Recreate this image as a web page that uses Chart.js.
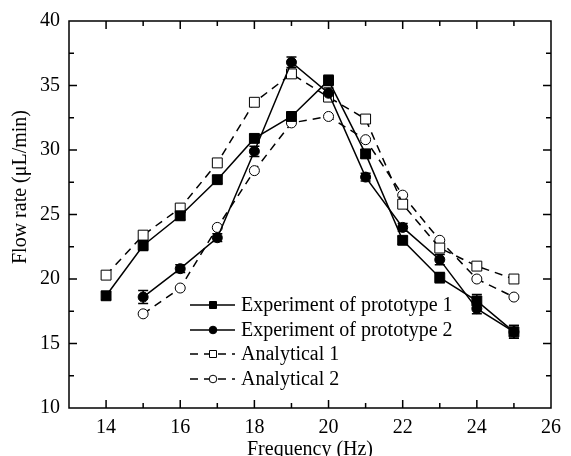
<!DOCTYPE html>
<html>
<head>
<meta charset="utf-8">
<script src="https://cdn.jsdelivr.net/npm/chart.js@4"></script>
<style>
html, body { margin: 0; padding: 0; background: #fff; }
</style>
</head>
<body>
<canvas id="flowChart" width="571" height="456"></canvas>
<script>
// frequencies (Hz)
const freqAll = [14, 15, 16, 17, 18, 19, 20, 21, 22, 23, 24, 25];
const freqFrom15 = [15, 16, 17, 18, 19, 20, 21, 22, 23, 24, 25];

// flow rate (uL/min)
const exp1 = [18.7, 22.6, 24.9, 27.7, 30.9, 32.6, 35.4, 29.7, 23.0, 20.1, 18.3, 15.9];
const exp1Err = [0.3, 0.4, 0.3, 0.3, 0.3, 0.3, 0.4, 0.3, 0.3, 0.4, 0.5, 0.5];
const exp2 = [18.6, 20.8, 23.2, 29.9, 36.8, 34.4, 27.9, 24.0, 21.5, 17.7, 15.9];
const exp2Err = [0.5, 0.3, 0.3, 0.4, 0.4, 0.4, 0.3, 0.3, 0.4, 0.4, 0.5];
const analytical1 = [20.3, 23.4, 25.5, 29.0, 33.7, 35.9, 34.1, 32.4, 25.8, 22.4, 21.0, 20.0];
const analytical2 = [17.3, 19.3, 24.0, 28.4, 32.1, 32.6, 30.8, 26.5, 23.0, 20.0, 18.6];

const xTicks = [14, 16, 18, 20, 22, 24, 26];
const yTicks = [10, 15, 20, 25, 30, 35, 40];
const seriesNames = ['Experiment of prototype 1', 'Experiment of prototype 2', 'Analytical 1', 'Analytical 2'];

const FONT = '"Liberation Serif", "Times New Roman", serif';

function pts(xs, ys) {
    return xs.map((x, i) => ({ x: x, y: ys[i] }));
}

// error bars for the experimental series
const errorBars = {
    id: 'errorBars',
    beforeDatasetsDraw(chart) {
        const ctx = chart.ctx;
        const xs = chart.scales.x, ys = chart.scales.y;
        ctx.save();
        ctx.strokeStyle = '#000';
        ctx.lineWidth = 1.5;
        [[freqAll, exp1, exp1Err], [freqFrom15, exp2, exp2Err]].forEach(([f, v, e]) => {
            f.forEach((fx, i) => {
                const px = xs.getPixelForValue(fx);
                const top = ys.getPixelForValue(v[i] + e[i]);
                const bot = ys.getPixelForValue(v[i] - e[i]);
                ctx.beginPath();
                ctx.moveTo(px, top); ctx.lineTo(px, bot);
                ctx.moveTo(px - 5, top); ctx.lineTo(px + 5, top);
                ctx.moveTo(px - 5, bot); ctx.lineTo(px + 5, bot);
                ctx.stroke();
            });
        });
        ctx.restore();
    }
};

// box frame, inward ticks, y title and legend
const frameAndLegend = {
    id: 'frameAndLegend',
    afterDraw(chart) {
        const ctx = chart.ctx;
        const a = chart.chartArea;
        const xs = chart.scales.x, ys = chart.scales.y;
        ctx.save();
        ctx.strokeStyle = '#000';
        ctx.lineWidth = 1.5;
        ctx.strokeRect(a.left, a.top, a.right - a.left, a.bottom - a.top);

        ctx.beginPath();
        for (let v = 14; v <= 25; v++) {
            const px = xs.getPixelForValue(v);
            const len = v % 2 === 0 ? 8 : 5;
            ctx.moveTo(px, a.bottom); ctx.lineTo(px, a.bottom - len);
            ctx.moveTo(px, a.top); ctx.lineTo(px, a.top + len);
        }
        for (let v = 12.5; v < 40; v += 2.5) {
            const py = ys.getPixelForValue(v);
            const len = v % 5 === 0 ? 8 : 5;
            ctx.moveTo(a.left, py); ctx.lineTo(a.left + len, py);
            ctx.moveTo(a.right, py); ctx.lineTo(a.right - len, py);
        }
        ctx.stroke();

        // y axis title
        ctx.fillStyle = '#000';
        ctx.font = '20px ' + FONT;
        ctx.textAlign = 'center';
        ctx.textBaseline = 'middle';
        ctx.translate(21, 187);
        ctx.rotate(-Math.PI / 2);
        ctx.fillText('Flow rate (\u03bcL/min)', 0, 0);
        ctx.setTransform(1, 0, 0, 1, 0, 0);

        // legend
        const lx0 = 190, lx1 = 235, mx = 213, tx = 241;
        const rowY = [305, 330, 354, 379];
        chart.data.datasets.forEach((ds, i) => {
            const y = rowY[i];
            ctx.strokeStyle = '#000';
            ctx.lineWidth = 1.5;
            ctx.setLineDash(ds.borderDash || []);
            ctx.beginPath();
            ctx.moveTo(lx0, y); ctx.lineTo(lx1, y);
            ctx.stroke();
            ctx.setLineDash([]);
            ctx.fillStyle = ds.pointBackgroundColor;
            ctx.lineWidth = 1;
            ctx.beginPath();
            if (ds.pointStyle === 'rect') {
                ctx.rect(mx - 3.5, y - 3.5, 7, 7);
            } else {
                ctx.arc(mx, y, 3.8, 0, Math.PI * 2);
            }
            ctx.fill();
            ctx.stroke();
            ctx.fillStyle = '#000';
            ctx.font = '20px ' + FONT;
            ctx.textAlign = 'left';
            ctx.textBaseline = 'middle';
            ctx.fillText(ds.label, tx, y + 1);
        });
        ctx.restore();
    }
};

const ctx = document.getElementById('flowChart').getContext('2d');

const flowChart = new Chart(ctx, {
    type: 'line',
    data: {
        datasets: [{
            label: seriesNames[0],
            data: pts(freqAll, exp1),
            borderColor: '#000',
            borderWidth: 1.5,
            pointStyle: 'rect',
            pointRadius: 7,
            pointBackgroundColor: '#000',
            pointBorderColor: '#000',
            pointBorderWidth: 1
        }, {
            label: seriesNames[1],
            data: pts(freqFrom15, exp2),
            borderColor: '#000',
            borderWidth: 1.5,
            pointStyle: 'circle',
            pointRadius: 5,
            pointBackgroundColor: '#000',
            pointBorderColor: '#000',
            pointBorderWidth: 1
        }, {
            label: seriesNames[2],
            data: pts(freqAll, analytical1),
            borderColor: '#000',
            borderWidth: 1.5,
            borderDash: [8, 6],
            pointStyle: 'rect',
            pointRadius: 7,
            pointBackgroundColor: '#fff',
            pointBorderColor: '#000',
            pointBorderWidth: 1
        }, {
            label: seriesNames[3],
            data: pts(freqFrom15, analytical2),
            borderColor: '#000',
            borderWidth: 1.5,
            borderDash: [8, 6],
            pointStyle: 'circle',
            pointRadius: 5,
            pointBackgroundColor: '#fff',
            pointBorderColor: '#000',
            pointBorderWidth: 1
        }]
    },
    options: {
        responsive: false,
        animation: false,
        layout: { padding: { top: 21, right: 9, left: 0, bottom: 0 } },
        plugins: {
            legend: { display: false },
            tooltip: { enabled: false }
        },
        scales: {
            x: {
                type: 'linear',
                min: 13,
                max: 26,
                afterBuildTicks: (s) => { s.ticks = xTicks.map(v => ({ value: v })); },
                afterFit: (s) => { s.height = 48; },
                grid: { display: false, drawTicks: false },
                border: { display: false },
                ticks: {
                    color: '#000',
                    padding: 10,
                    maxRotation: 0,
                    font: { family: FONT, size: 20, lineHeight: 1.0 }
                },
                title: {
                    display: true,
                    text: 'Frequency (Hz)',
                    color: '#000',
                    padding: { top: -4, bottom: -4 },
                    font: { family: FONT, size: 20, lineHeight: 1.0 }
                }
            },
            y: {
                min: 10,
                max: 40,
                afterBuildTicks: (s) => { s.ticks = yTicks.map(v => ({ value: v })); },
                afterFit: (s) => { s.width = 69; },
                grid: { display: false, drawTicks: false },
                border: { display: false },
                ticks: {
                    color: '#000',
                    padding: 9,
                    font: { family: FONT, size: 20 }
                }
            }
        }
    },
    plugins: [errorBars, frameAndLegend]
});
</script>
</body>
</html>
